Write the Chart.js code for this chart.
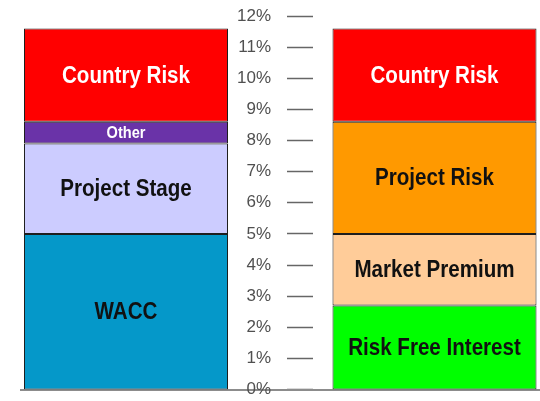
<!DOCTYPE html>
<html>
<head>
<meta charset="utf-8">
<script src="https://cdn.jsdelivr.net/npm/chart.js@4.4.1/dist/chart.umd.min.js"></script>
<style>
  html, body { margin: 0; padding: 0; background: #ffffff; }
  #rates { display: block; }
</style>
</head>
<body>
<canvas id="rates" width="540" height="401"></canvas>
<script>
// left column: discount rate built up from WACC
const leftParts = ["WACC", "Project Stage", "Other", "Country Risk"];
const leftValues = [5.0, 2.9, 0.7, 3.0];
const leftColors = ["#0598c9", "#ccccff", "#6a33a8", "#ff0000"];

// right column: discount rate built up from the risk free rate
const rightParts = ["Risk Free Interest", "Market Premium", "Project Risk", "Country Risk"];
const rightValues = [2.7, 2.3, 3.6, 3.0];
const rightColors = ["#00ff00", "#ffcc99", "#ff9900", "#ff0000"];

// percent axis
const tickMin = 0;
const tickMax = 12;
const tickStep = 1;

const whiteText = ["Country Risk", "Other"];
const labelFont = "'Liberation Sans', Arial, sans-serif";

function makeSets(names, values, colors, stack) {
    return names.map((name, i) => ({
        label: name,
        data: [values[i]],
        backgroundColor: colors[i],
        borderColor: "#1e1e1e",
        borderWidth: 1,
        borderSkipped: false,
        stack: stack,
        // two stacks in one wide category -> one column each side of the axis
        categoryPercentage: 1.1877,
        barPercentage: 0.6613,
    }));
}

// writes each segment's name in the middle of its piece (narrowed like a condensed face)
const segmentNames = {
    id: "segmentNames",
    afterDatasetsDraw(chart) {
        const ctx = chart.ctx;
        chart.data.datasets.forEach((ds, i) => {
            const bar = chart.getDatasetMeta(i).data[0];
            if (!bar) return;
            const small = ds.label === "Other";
            ctx.save();
            ctx.translate(bar.x, (bar.y + bar.base) / 2 + 1);
            ctx.scale(0.857, 1);
            ctx.textAlign = "center";
            ctx.textBaseline = "middle";
            ctx.font = "bold " + (small ? 17 : 24) + "px " + labelFont;
            ctx.fillStyle = whiteText.includes(ds.label) ? "#ffffff" : "#111111";
            ctx.fillText(ds.label, 0, 0);
            ctx.restore();
        });
    },
};

const chart = new Chart(document.getElementById("rates").getContext("2d"), {
    type: "bar",
    data: {
        labels: ["rate"],
        datasets: [
            ...makeSets(leftParts, leftValues, leftColors, "left"),
            ...makeSets(rightParts, rightValues, rightColors, "right"),
        ],
    },
    plugins: [segmentNames],
    options: {
        responsive: false,
        animation: false,
        events: [],
        layout: {
            padding: { left: 20.5, right: 0, top: 16, bottom: 9 },
        },
        plugins: {
            legend: { display: false },
            tooltip: { enabled: false },
        },
        scales: {
            x: {
                stacked: true,
                grid: { display: false, drawTicks: false },
                ticks: { display: false },
                border: { display: true, color: "#8c8c8c", width: 2 },
            },
            // percent labels, sitting between the two columns
            y: {
                stacked: true,
                position: { x: -0.0178 },
                min: tickMin,
                max: tickMax,
                ticks: {
                    stepSize: tickStep,
                    color: "#505050",
                    font: { family: labelFont, size: 17, lineHeight: 1 },
                    callback: (v) => v + "%",
                },
                grid: { display: false },
                border: { display: false },
            },
            // short dashes to the right of the labels
            yTicks: {
                position: { x: 0.0621 },
                min: tickMin,
                max: tickMax,
                ticks: { stepSize: tickStep, display: false },
                grid: {
                    drawOnChartArea: false,
                    tickLength: 26,
                    tickWidth: 1.5,
                    tickColor: "#666666",
                },
                border: { display: false },
            },
        },
    },
});
</script>
</body>
</html>
